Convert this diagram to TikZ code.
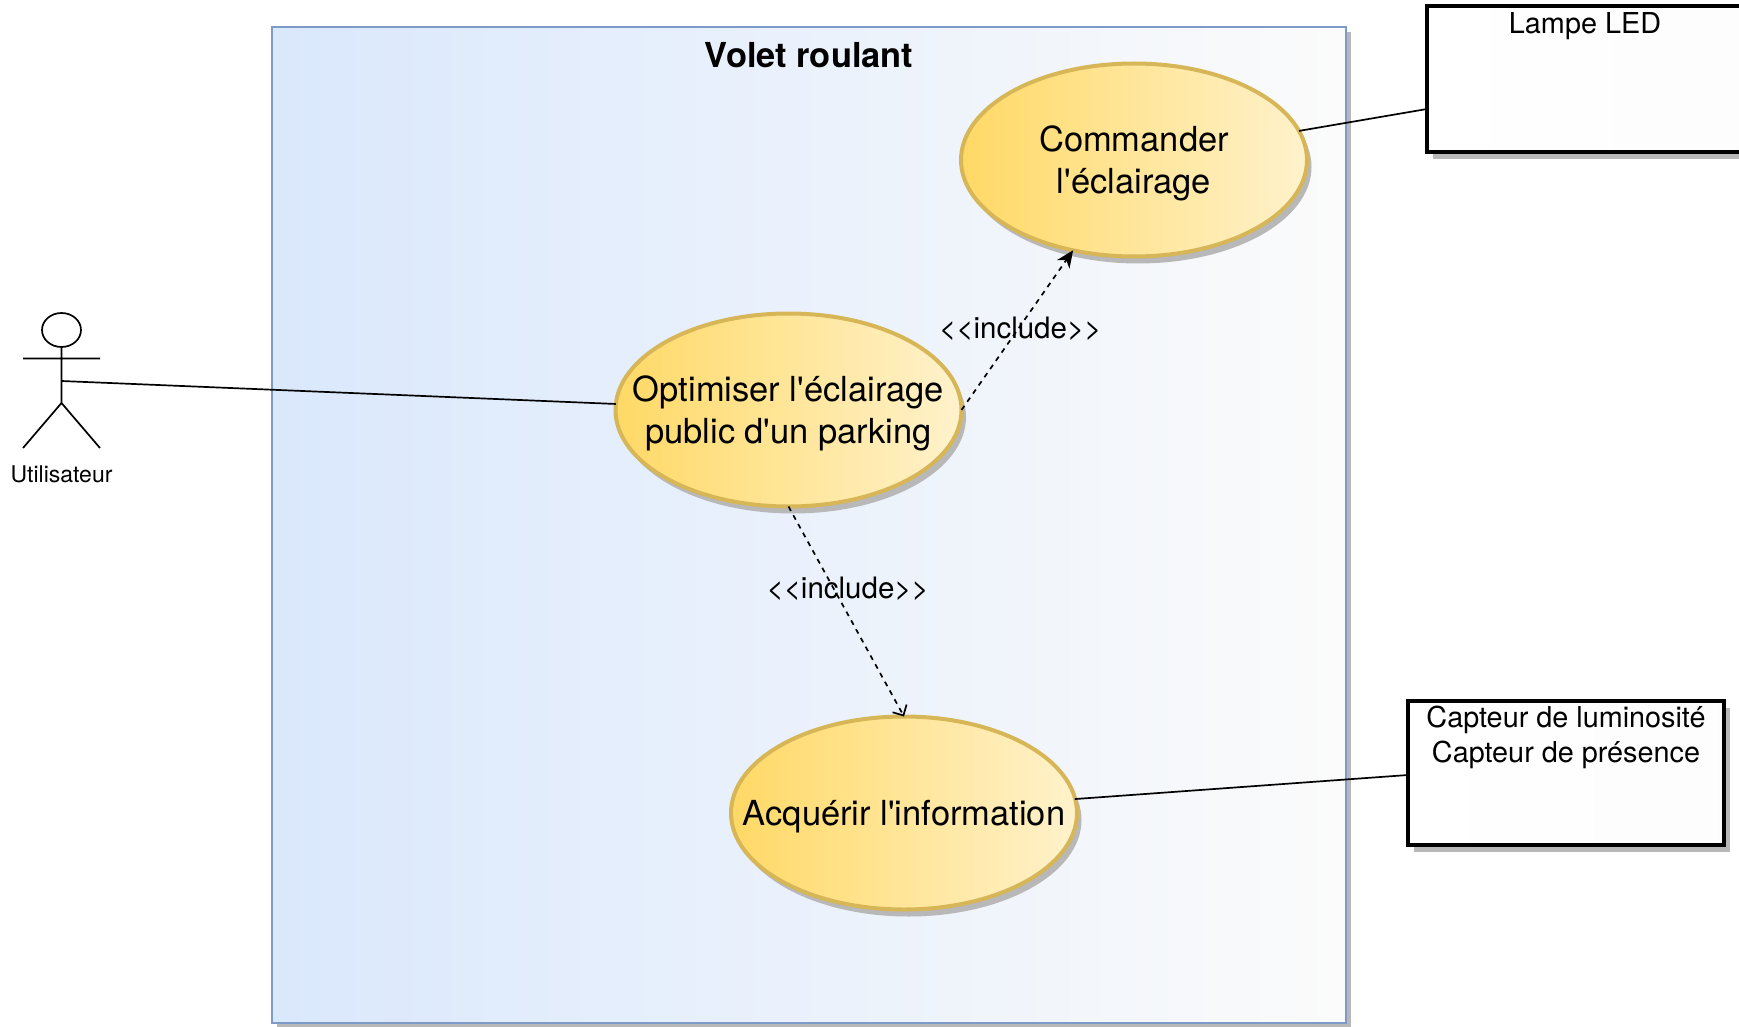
\documentclass[tikz,border=0pt]{standalone}
\usepackage{fontspec}
\setmainfont{TeX Gyre Heros}[Ligatures=TeXOff]
\usetikzlibrary{positioning, shapes.geometric, shadows, arrows.meta}
\definecolor{sysleft}{HTML}{DAE8FC}
\definecolor{sysright}{HTML}{FBFBFB}
\definecolor{sysline}{HTML}{7C9BC9}
\definecolor{caseleft}{HTML}{FFD966}
\definecolor{caseright}{HTML}{FFF2CC}
\definecolor{caseline}{HTML}{D6B656}
\definecolor{shadowgray}{HTML}{B8B8B8}
\newcommand{\caselines}[1]{\raisebox{-10.2pt}[0pt][0pt]{\makebox[0pt]{\begin{tabular}{@{}c@{}}#1\end{tabular}}}}
\tikzset{
x=1pt, y=-1pt, % one unit is one pixel of the layout
outer sep=0pt,
casefont/.style={font=\fontsize{34.5}{42}\selectfont},
boxfont/.style={font=\fontsize{28.8}{34.5}\selectfont, align=center, inner sep=0pt},
edgefont/.style={font=\fontsize{29.5}{30}\selectfont, inner sep=0pt},
usecase/.style={ellipse, casefont, draw=caseline, line width=4pt, left color=caseleft, right color=caseright, minimum width=346pt, minimum height=193pt, inner sep=0pt, drop shadow={shadow xshift=4.5pt, shadow yshift=-7pt, fill=shadowgray, opacity=1}},
hardware/.style={rectangle, draw=black, line width=4pt, left color=white, right color=white!99!black, minimum width=316pt, inner sep=0pt, drop shadow={shadow xshift=6pt, shadow yshift=-7pt, fill=shadowgray, opacity=1}},
link/.style={line width=1.7pt},
includeedge/.style={line width=1.7pt, dash pattern=on 5pt off 5pt},
actorline/.style={line width=1.7pt},
}
\begin{document}
\begin{tikzpicture}
\useasboundingbox (0,0) rectangle (1739,1027);
\node[rectangle, draw=sysline, line width=2.5pt, left color=sysleft, right color=sysright, minimum width=1074pt, minimum height=996pt, drop shadow={shadow xshift=5pt, shadow yshift=-5pt, fill=shadowgray, opacity=1}] (system) at (809,525) {};
\node[below=15pt of system.north, font=\fontsize{34.4}{40}\selectfont\bfseries, inner sep=0pt] (title) {Volet roulant};
\node[usecase] (optimiser) at (788.5,410) {\caselines{Optimiser l'éclairage\\public d'un parking}};
\node[usecase, right of=optimiser, node distance=345.5pt, yshift=250pt] (commander) {\caselines{Commander\\l'éclairage}};
\node[usecase, below of=optimiser, node distance=403pt, xshift=115.5pt] (acquerir) {\caselines{Acquérir l'information}};
\node[hardware, minimum height=146pt] (lampe) at (1585,79) {};
\node[hardware, minimum height=144pt] (capteur) at (1566,773) {};
\node[boxfont, below=6.5pt of lampe.north] (lampetext) {Lampe LED};
\node[boxfont, below=5pt of capteur.north] (capteurtext) {Capteur de luminosité\\Capteur de présence};
% actor
\node[ellipse, draw, actorline, minimum width=39pt, minimum height=34pt, inner sep=0pt] (head) at (61.5,330) {};
\coordinate (neck) at (61.5,358.5);
\coordinate (waist) at (61.5,381);
\coordinate (hip) at (61.5,403);
\coordinate (handl) at (23,358.5);
\coordinate (handr) at (100,358.5);
\coordinate (footl) at (23,448);
\coordinate (footr) at (100,448);
\draw[actorline] (head) -- (hip) (handl) -- (handr) (footl) -- (hip) -- (footr);
\node[below=18pt of hip |- footl, font=\fontsize{23}{26}\selectfont, inner sep=0pt] (utilisateur) {Utilisateur};
% connectors
\draw[link] (waist) -- (optimiser.178);
\draw[link] (commander.10) -- ([yshift=-30pt]lampe.west);
\draw[link] ([yshift=-1pt]acquerir.5) -- ([yshift=-2pt]capteur.west);
\draw[includeedge, -{Stealth[length=17pt, width=15pt, inset=5pt]}] (optimiser.east) -- node[edgefont, xshift=3pt, yshift=1pt] (includea) {<<include>>} (commander.236);
\draw[includeedge, -{Straight Barb[length=8pt, width=16pt]}] (optimiser.south) -- node[edgefont, pos=.4, xshift=13pt, yshift=2pt] (includeb) {<<include>>} (acquerir.north);
\end{tikzpicture}
\end{document}
